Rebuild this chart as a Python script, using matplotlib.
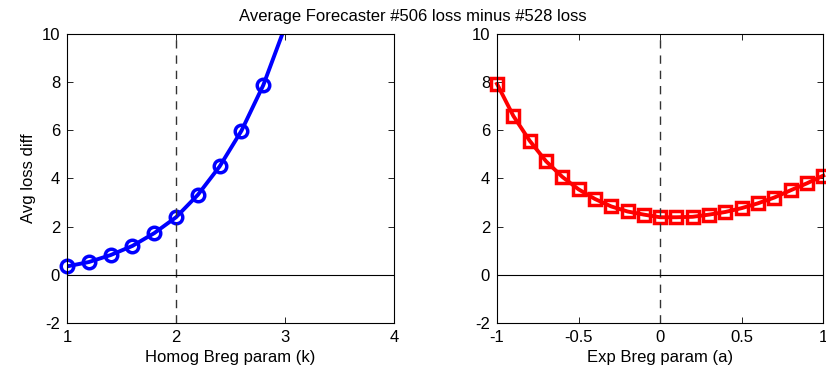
import numpy as np
import matplotlib.pyplot as plt

plt.rcParams['font.family'] = ['Liberation Sans', 'DejaVu Sans']
plt.rcParams['axes.unicode_minus'] = False

# data
k_vals = [1.0, 1.2, 1.4, 1.6, 1.8, 2.0, 2.2, 2.4, 2.6, 2.8, 3.0, 3.2]
homog_diff = [0.35, 0.53, 0.82, 1.20, 1.73, 2.39, 3.32, 4.50, 5.98, 7.87, 10.3, 13.4]

a_vals = [-1.0, -0.9, -0.8, -0.7, -0.6, -0.5, -0.4, -0.3, -0.2, -0.1, 0.0,
          0.1, 0.2, 0.3, 0.4, 0.5, 0.6, 0.7, 0.8, 0.9, 1.0]
exp_diff = [7.93, 6.60, 5.57, 4.72, 4.07, 3.55, 3.15, 2.84, 2.63, 2.50, 2.39,
            2.39, 2.41, 2.50, 2.61, 2.77, 2.97, 3.21, 3.51, 3.80, 4.12]

fig = plt.figure(figsize=(8.26, 3.76), dpi=100)
ax1 = fig.add_axes([0.0811, 0.141, 0.396, 0.7686])
ax2 = fig.add_axes([0.6017, 0.141, 0.3950, 0.7686])

def style(ax, xlim, xticks, xlabel):
	ax.set_xlim(xlim)
	ax.set_ylim(-2, 10)
	ax.set_xticks(xticks)
	ax.set_yticks(range(-2, 11, 2))
	ax.set_xticklabels([('%g' % t) for t in xticks])
	ax.tick_params(direction='in', top=True, right=True, labelsize=12, length=4, width=0.6, pad=5)
	for s in ax.spines.values():
		s.set_linewidth(0.8)
	ax.set_xlabel(xlabel, fontsize=12, labelpad=4)
	ax.axhline(0, color='k', lw=0.8)

# left panel: line clipped at the axes, markers drawn whole
ax1.plot(k_vals, homog_diff, 'b-', lw=2.8)
kk = [k for k, v in zip(k_vals, homog_diff) if v <= 10]
vv = [v for v in homog_diff if v <= 10]
ax1.plot(kk, vv, 'bo', markersize=9, markeredgewidth=2.5,
	markerfacecolor='none', clip_on=False)
ax1.axvline(2, color='#333333', ls=(0, (6, 5)), lw=1)
style(ax1, (1, 4), [1, 2, 3, 4], 'Homog Breg param (k)')
ax1.set_ylabel('Avg loss diff', fontsize=12)

# right panel
ax2.plot(a_vals, exp_diff, 'r-s', lw=2.8, markersize=8, markeredgewidth=2.5,
	markerfacecolor='none', clip_on=False)
ax2.axvline(0, color='#333333', ls=(0, (6, 5)), lw=1)
style(ax2, (-1, 1), [-1, -0.5, 0, 0.5, 1], 'Exp Breg param (a)')

fig.text(0.5, 0.955, 'Average Forecaster #506 loss minus #528 loss', ha='center', va='center', fontsize=12)

plt.savefig('out.png', dpi=100)
